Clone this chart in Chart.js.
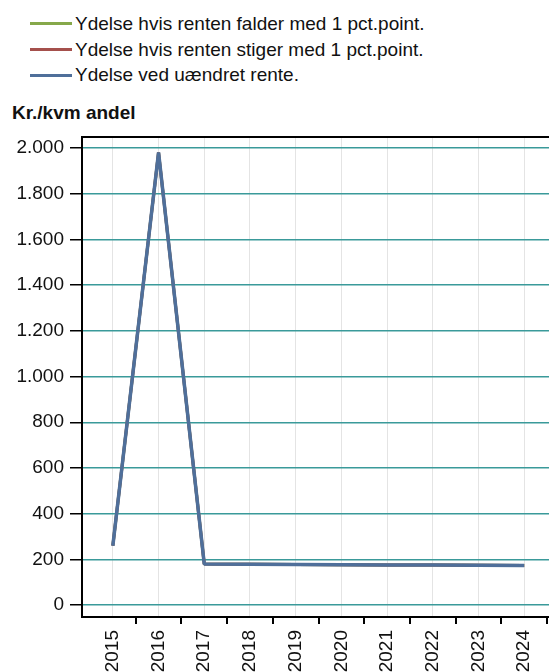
<!DOCTYPE html>
<html>
<head>
<meta charset="utf-8">
<script src="https://cdn.jsdelivr.net/npm/chart.js@4"></script>
<style>
    html, body { margin: 0; padding: 0; background: #fff; overflow: hidden; width: 549px; height: 672px; }
    body { position: relative; font-family: "Liberation Sans", Arial, sans-serif; }
    #legend { position: absolute; left: 30px; top: 11px; }
    .row { height: 25.7px; display: flex; align-items: center; font-size: 19px; color: #111; }
    .swatch { width: 42px; height: 3px; margin-right: 3px; }
    #title { position: absolute; left: 12px; top: 102px; font-size: 19px; font-weight: bold; color: #111; }
    #wrap { position: absolute; left: 0; top: 0; width: 560px; height: 672px; }
</style>
</head>
<body>
<div id="legend"></div>
<div id="title">Kr./kvm andel</div>
<div id="wrap"><canvas id="chart"></canvas></div>
<script>
// Data
const years = ['2015', '2016', '2017', '2018', '2019', '2020', '2021', '2022', '2023', '2024'];
const rentenFalder = [260, 1980, 180, 179, 178, 177, 176, 175, 174, 173];
const rentenStiger = [260, 1980, 180, 179, 178, 177, 176, 175, 174, 173];
const uaendretRente = [260, 1980, 180, 179, 178, 177, 176, 175, 174, 173];
const yTicks = [0, 200, 400, 600, 800, 1000, 1200, 1400, 1600, 1800, 2000];

const seriesNames = [
    'Ydelse hvis renten falder med 1 pct.point.',
    'Ydelse hvis renten stiger med 1 pct.point.',
    'Ydelse ved uændret rente.'
];
const seriesColors = ['#86a84a', '#a5504c', '#4f6f9a'];
const seriesData = [rentenFalder, rentenStiger, uaendretRente];

// Legend
const legend = document.getElementById('legend');
seriesNames.forEach((name, i) => {
    const row = document.createElement('div');
    row.className = 'row';
    row.innerHTML = '<span class="swatch" style="background:' + seriesColors[i] + '"></span>' + name;
    legend.appendChild(row);
});

const fmt = v => v.toLocaleString('da-DK');

// Extra lines: top frame and x tick marks between years
const framePlugin = {
    id: 'frame',
    afterDraw(chart) {
        const ctx = chart.ctx;
        const a = chart.chartArea;
        const xs = chart.scales.x;
        ctx.save();
        ctx.strokeStyle = '#000';
        ctx.lineWidth = 2;
        ctx.beginPath();
        ctx.moveTo(a.left, a.top);
        ctx.lineTo(a.right, a.top);
        years.forEach(y => {
            const px = Math.round(xs.getPixelForValue(Number(y) + 0.5));
            ctx.moveTo(px, a.bottom);
            ctx.lineTo(px, a.bottom + 7);
        });
        ctx.stroke();
        ctx.restore();
    }
};

const ctx = document.getElementById('chart').getContext('2d');
new Chart(ctx, {
    type: 'line',
    data: {
        datasets: seriesData.map((d, i) => ({
            label: seriesNames[i],
            data: d.map((v, j) => ({ x: Number(years[j]), y: v })),
            borderColor: seriesColors[i],
            borderWidth: i === 2 ? 3.5 : 3,
            borderJoinStyle: 'bevel',
            pointRadius: 0,
            tension: 0,
            order: 3 - i
        }))
    },
    options: {
        responsive: true,
        maintainAspectRatio: false,
        animation: false,
        layout: { padding: { top: 137, left: 0, right: 0, bottom: 0 } },
        plugins: { legend: { display: false }, tooltip: { enabled: false } },
        scales: {
            x: {
                type: 'linear',
                min: 2014.325,
                max: 2024.74,
                afterBuildTicks: s => { s.ticks = years.map(y => ({ value: Number(y) })); },
                afterFit: s => { s.height = 55; },
                grid: { color: '#e4e4e4', lineWidth: 1, drawTicks: false },
                border: { color: '#000', width: 2 },
                ticks: {
                    minRotation: 90,
                    maxRotation: 90,
                    padding: 13,
                    color: '#111',
                    font: { family: 'Liberation Sans', size: 19 },
                    callback: v => String(v)
                }
            },
            y: {
                min: -52,
                max: 2048,
                afterBuildTicks: s => { s.ticks = yTicks.map(v => ({ value: v })); },
                afterFit: s => { s.width = 82; },
                grid: { color: '#3a9a9a', lineWidth: 1.5, tickColor: '#000', tickLength: 12 },
                border: { color: '#000', width: 2 },
                ticks: {
                    padding: 6,
                    color: '#111',
                    font: { family: 'Liberation Sans', size: 19 },
                    callback: v => fmt(v)
                }
            }
        }
    },
    plugins: [framePlugin]
});
</script>
</body>
</html>
